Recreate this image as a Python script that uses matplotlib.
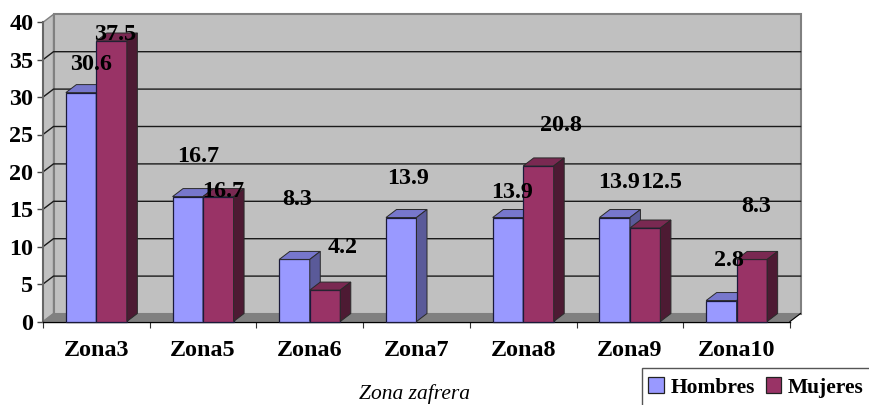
import matplotlib
matplotlib.use('Agg')
import matplotlib.pyplot as plt
from matplotlib.patches import Polygon, Rectangle, Patch

zones = ['Zona3', 'Zona5', 'Zona6', 'Zona7', 'Zona8', 'Zona9', 'Zona10']
hombres = [30.6, 16.7, 8.3, 13.9, 13.9, 13.9, 2.8]
mujeres = [37.5, 16.7, 4.2, 0, 20.8, 12.5, 8.3]
y_ticks = [0, 5, 10, 15, 20, 25, 30, 35, 40]

# hand placed data labels, pixels from the top centre of each bar
hombres_offsets = [(10, 28.6), (10.2, 39.6), (3, 60), (6.5, 39.5), (4.5, 25.5), (4, 35.5), (7.5, 40.5)]
mujeres_offsets = [(4, 6), (4.5, 5.5), (17.5, 43), (0, 0), (22, 40), (15.5, 46), (4.5, 53)]

W, H = 870, 405
LEFT, RIGHT, BOTTOM, TOP = 43, 790, 321.5, 22.3
BAR_W = 30.5 / 106.7
DX = 10.5 / 106.7
DY = 8 / 7.48
FONT = 'Liberation Serif'
TEXT_SIZE = 17.4

plt.rcParams['font.family'] = FONT
plt.rcParams['font.weight'] = 'bold'

fig = plt.figure(figsize=(W / 100, H / 100), dpi=100)
ax = fig.add_axes([LEFT / W, 1 - BOTTOM / H, (RIGHT - LEFT) / W, (BOTTOM - TOP) / H])
ax.set_xlim(0, len(zones))
ax.set_ylim(0, 40)
ax.patch.set_visible(False)
for side in ['top', 'right']:
    ax.spines[side].set_visible(False)
ax.spines['left'].set_color('#666666')
ax.spines['left'].set_linewidth(1.5)
ax.spines['bottom'].set_color('#000000')
ax.spines['bottom'].set_linewidth(1)

n = len(zones)

# back wall, side wall and floor
ax.add_patch(Polygon([(DX, DY), (n + DX, DY), (n + DX, 40 + DY), (DX, 40 + DY)],
                     fc='#C0C0C0', ec='#808080', lw=1.5, zorder=1, clip_on=False))
ax.add_patch(Polygon([(0, 0), (DX, DY), (DX, 40 + DY), (0, 40)],
                     fc='#C0C0C0', ec='#808080', lw=1, zorder=1, clip_on=False))
ax.add_patch(Polygon([(0, 0), (n, 0), (n + DX, DY), (DX, DY)],
                     fc='#808080', ec='#808080', lw=0.5, zorder=1.5, clip_on=False))

# gridlines run along the wall and slant down the side wall
for tick in y_ticks[1:-1]:
    ax.plot([0, DX, n + DX], [tick, tick + DY, tick + DY], color='#1a1a1a', lw=1,
            zorder=2, clip_on=False)
ax.plot([n, n + DX], [0, DY], color='#000000', lw=0.8, zorder=2, clip_on=False)


def draw_bar(x, value, color, top_color, side_color, zorder):
    if value == 0:
        return
    ax.bar(x, value, width=BAR_W, align='edge', color=color, edgecolor='#1a1a3a',
           linewidth=0.9, zorder=zorder, clip_on=False)
    x1 = x + BAR_W
    ax.add_patch(Polygon([(x, value), (x1, value), (x1 + DX, value + DY), (x + DX, value + DY)],
                         fc=top_color, ec='#2a2a2a', lw=0.7, zorder=zorder, clip_on=False))
    ax.add_patch(Polygon([(x1, 0), (x1 + DX, DY), (x1 + DX, value + DY), (x1, value)],
                         fc=side_color, ec='#2a2a2a', lw=0.7, zorder=zorder, clip_on=False))


for i in range(n):
    draw_bar(i + 0.5 - BAR_W, hombres[i], '#9999FF', '#7777CC', '#5A5A99', 3 + i * 0.1)
    draw_bar(i + 0.5, mujeres[i], '#993366', '#7A2952', '#4D1A33', 3.05 + i * 0.1)

for i in range(n):
    for value, offsets, x in [(hombres[i], hombres_offsets, i + 0.5 - BAR_W / 2),
                              (mujeres[i], mujeres_offsets, i + 0.5 + BAR_W / 2)]:
        if value == 0:
            continue
        ax.annotate(f'{value:.1f}', (x, value), xytext=offsets[i], textcoords='offset pixels',
                    ha='center', va='center', fontsize=TEXT_SIZE, fontweight='bold', color='black',
                    zorder=6, annotation_clip=False)

ax.set_yticks(y_ticks)
ax.tick_params(axis='y', length=4, width=1, color='#444444', labelsize=TEXT_SIZE, pad=3)
ax.set_xticks(range(n + 1))
ax.set_xticklabels([])
ax.tick_params(axis='x', length=4.5, width=0.8, color='#333333')
for i, zone in enumerate(zones):
    ax.annotate(zone, (i + 0.5, 0), xytext=(0, -29), textcoords='offset pixels',
                ha='center', va='center', fontsize=TEXT_SIZE, fontweight='bold',
                annotation_clip=False)

fig.text(414.5 / W, 1 - 399.5 / H, 'Zona zafrera', fontsize=15.5, style='italic', fontweight='normal',
         ha='center', va='baseline')

# legend box runs off the right and bottom of the image
fig.add_artist(Rectangle((642 / W, -0.05), 0.5, 1 - 367.7 / H + 0.05, transform=fig.transFigure,
                         fc='white', ec='#555555', lw=1))
handles = [Patch(fc='#9999FF', ec='#222222', lw=0.9, label='Hombres'),
           Patch(fc='#993366', ec='#222222', lw=0.9, label='Mujeres')]
fig.legend(handles=handles, loc='center left', bbox_to_anchor=(648.5 / W, 1 - 387.5 / H), ncol=2,
           frameon=False, fontsize=15.5, handlelength=0.72, handleheight=0.72, handletextpad=0.3,
           columnspacing=0.5, borderpad=0, borderaxespad=0)

fig.savefig('out.png', dpi=100)
